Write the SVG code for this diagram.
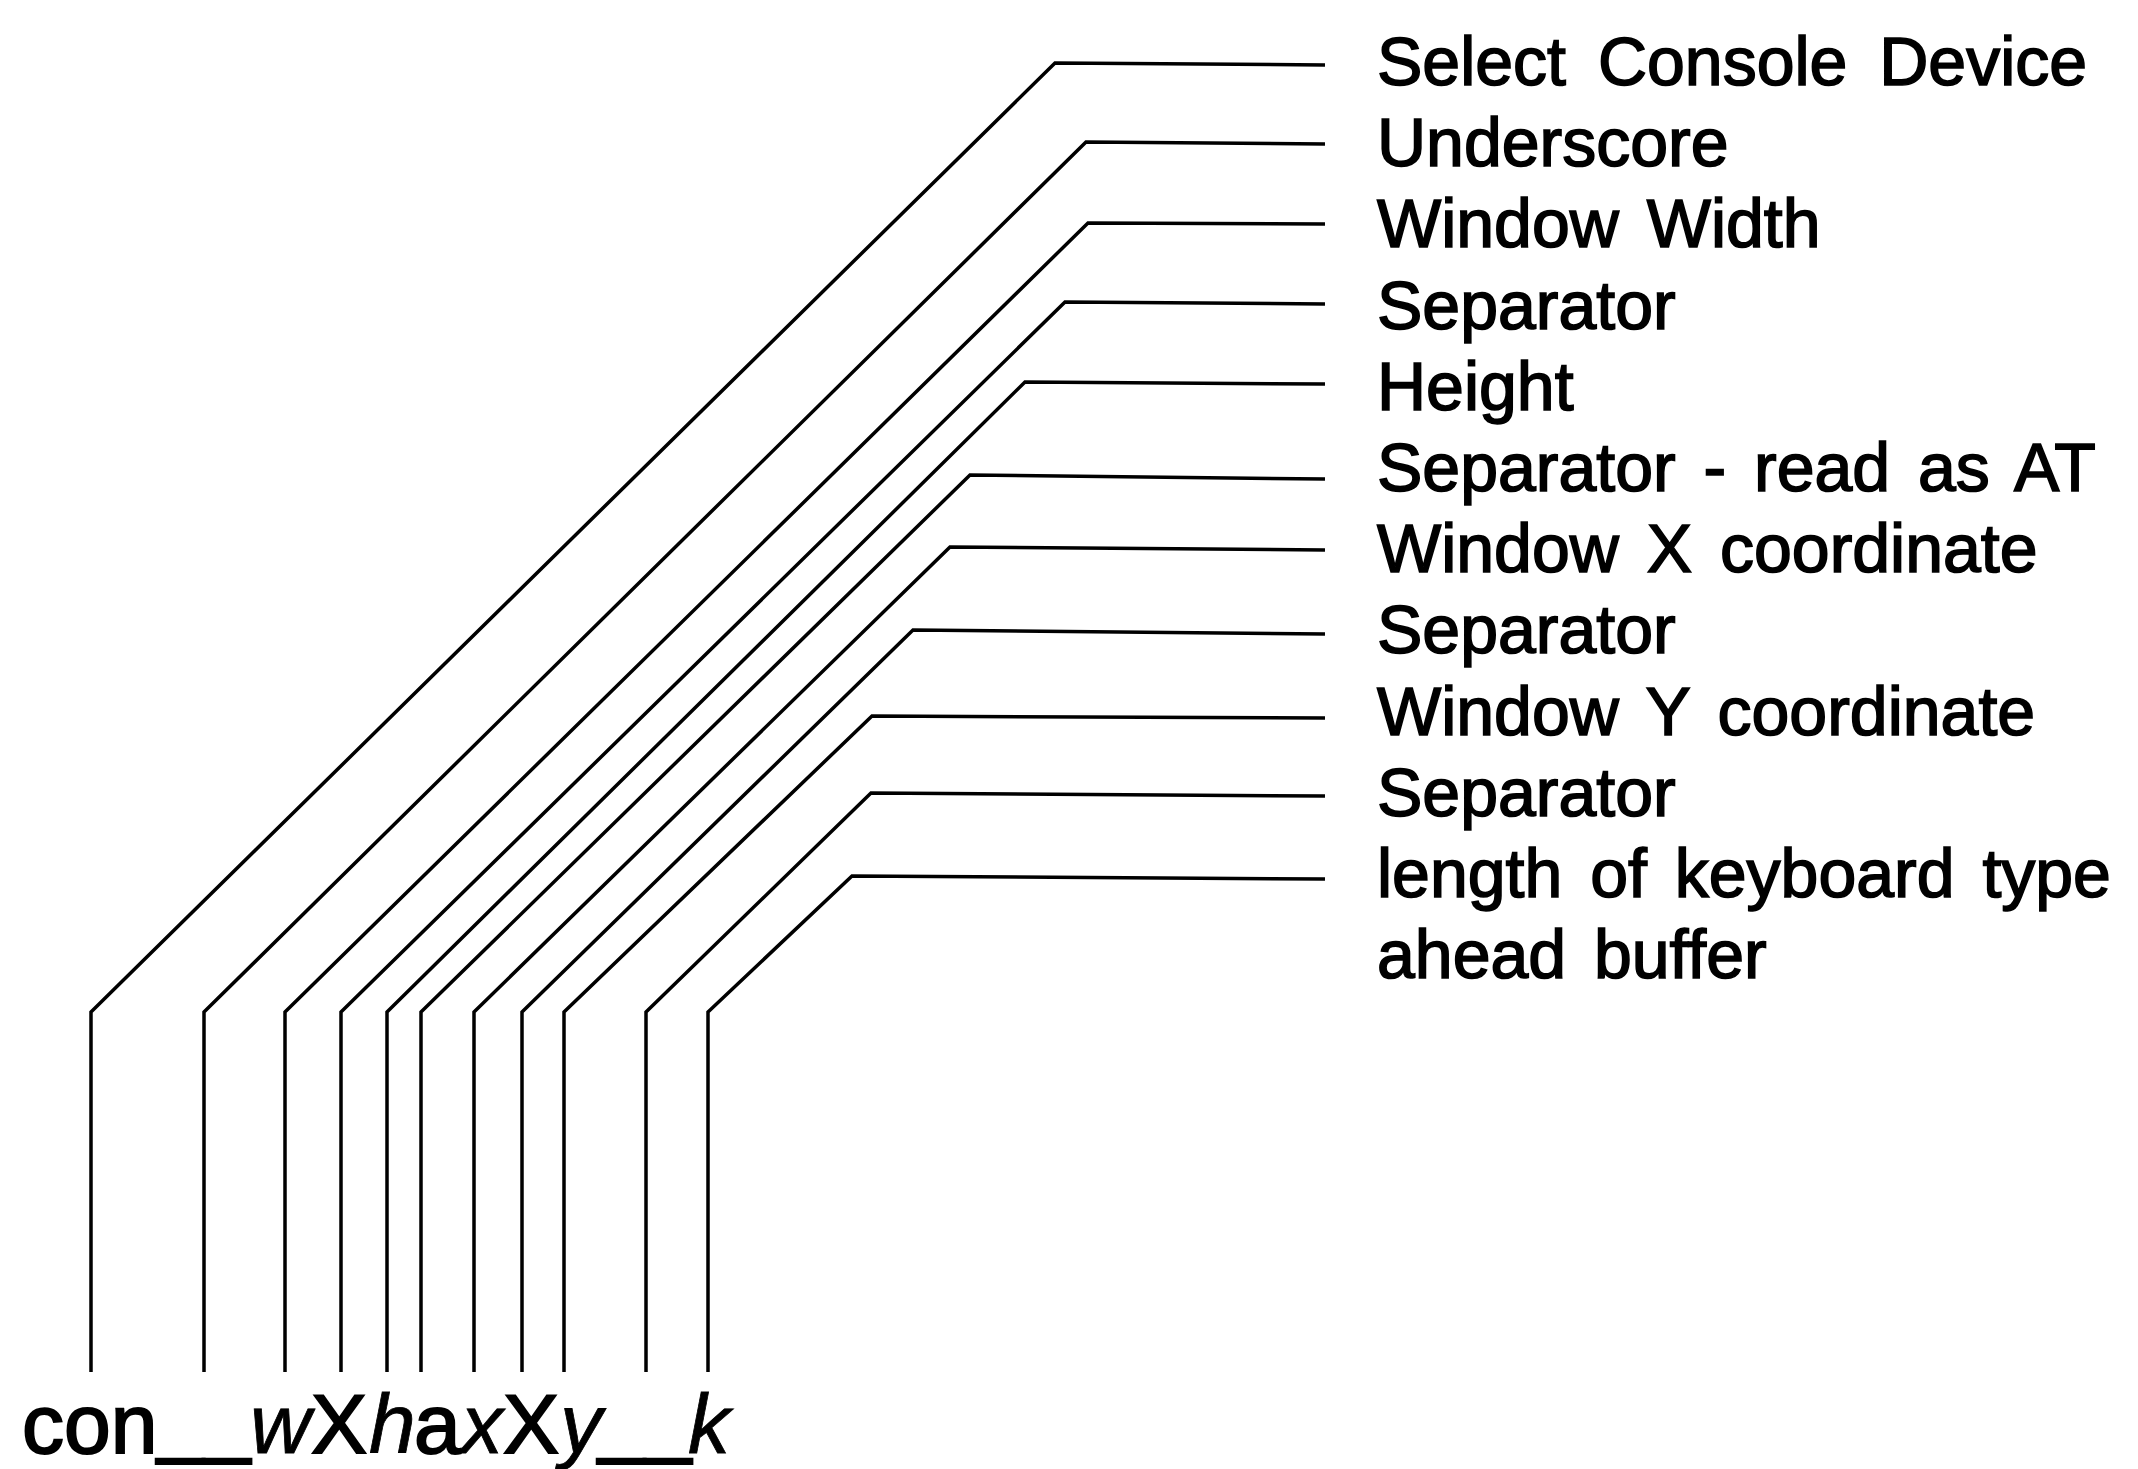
<svg xmlns="http://www.w3.org/2000/svg" width="2138" height="1469" viewBox="0 0 2138 1469">
<style>
.c{fill:none;stroke:#000;stroke-width:3.5;stroke-linejoin:miter}
.l{font-family:"Liberation Sans",Arial,sans-serif;font-size:68px;fill:#000;stroke:#000;stroke-width:1.6;word-spacing:9px}
.b{font-family:"Liberation Sans",Arial,sans-serif;font-size:84px;fill:#000;stroke:#000;stroke-width:2}
.i{font-style:italic;stroke-width:0.8}
</style>
<rect width="2138" height="1469" fill="#fff"/>
<g id="connectors">
<polyline class="c" points="91,1372 91,1012 1055,63 1325,65"/>
<polyline class="c" points="204,1372 204,1012 1086,142 1325,144"/>
<polyline class="c" points="285,1372 285,1012 1088,223 1325,224"/>
<polyline class="c" points="341,1372 341,1012 1065,302 1325,304"/>
<polyline class="c" points="387,1372 387,1012 1025,382 1325,384"/>
<polyline class="c" points="421,1372 421,1012 970,475 1325,479"/>
<polyline class="c" points="474,1372 474,1012 950,547 1325,550"/>
<polyline class="c" points="522,1372 522,1012 913,630 1325,634"/>
<polyline class="c" points="564,1372 564,1012 872,716 1325,718"/>
<polyline class="c" points="646,1372 646,1012 871,793 1325,796"/>
<polyline class="c" points="708,1372 708,1012 852,876 1325,879"/>
</g>
<g id="label-select-console"><text class="l" x="1377" y="85" style="word-spacing:13px">Select Console Device</text></g>
<g id="label-underscore"><text class="l" x="1377" y="166">Underscore</text></g>
<g id="label-window-width"><text class="l" x="1377" y="247">Window Width</text></g>
<g id="label-separator-1"><text class="l" x="1377" y="329">Separator</text></g>
<g id="label-height"><text class="l" x="1377" y="410">Height</text></g>
<g id="label-separator-at"><text class="l" x="1377" y="491">Separator - read as AT</text></g>
<g id="label-window-x"><text class="l" x="1377" y="572">Window X coordinate</text></g>
<g id="label-separator-2"><text class="l" x="1377" y="653">Separator</text></g>
<g id="label-window-y"><text class="l" x="1377" y="735">Window Y coordinate</text></g>
<g id="label-separator-3"><text class="l" x="1377" y="816">Separator</text></g>
<g id="label-buffer"><text class="l" x="1377" y="897">length of keyboard type</text><text class="l" x="1377" y="978">ahead buffer</text></g>
<g id="command-string">
<text class="b" y="1453"><tspan x="22">con</tspan><tspan x="157" y="1447">__</tspan><tspan class="i" x="250" y="1453">w</tspan><tspan x="311">X</tspan><tspan class="i" x="369">h</tspan><tspan x="414">a</tspan><tspan class="i" x="461">x</tspan><tspan x="503">X</tspan><tspan class="i" x="560">y</tspan><tspan x="598" y="1447">__</tspan><tspan class="i" x="688" y="1453">k</tspan></text>
</g>
</svg>
